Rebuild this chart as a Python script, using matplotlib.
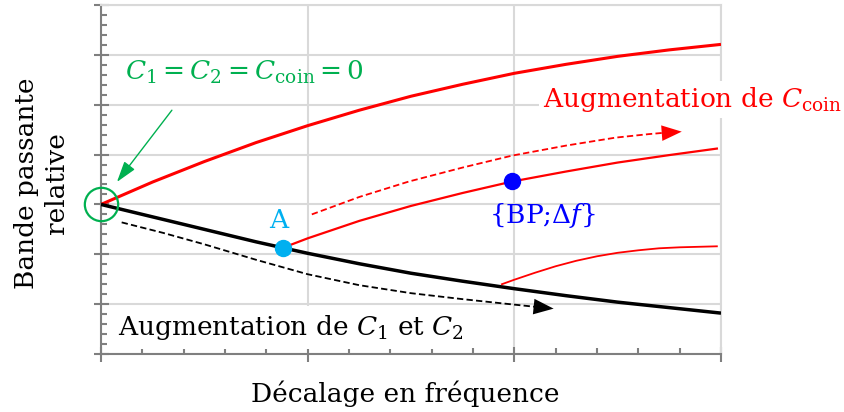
import matplotlib
matplotlib.use("Agg")
import matplotlib.pyplot as plt

plt.rcParams['font.family'] = ['DejaVu Serif']
plt.rcParams['mathtext.fontset'] = 'custom'
plt.rcParams['mathtext.rm'] = 'DejaVu Serif'
plt.rcParams['mathtext.it'] = 'DejaVu Serif:italic'

# ---- data ----
top_x = [0, 0.25, 0.5, 0.75, 1.0, 1.25, 1.5, 1.75, 2.0, 2.25, 2.5, 2.75, 3.0]
top_y = [3.0, 3.45, 3.86, 4.24, 4.58, 4.89, 5.17, 5.41, 5.63, 5.81, 5.97, 6.10, 6.21]

black_x = [0, 0.25, 0.5, 0.75, 0.88, 1.0, 1.25, 1.5, 1.75, 2.0, 2.25, 2.5, 2.75, 3.0]
black_y = [3.0, 2.75, 2.50, 2.25, 2.13, 2.02, 1.81, 1.62, 1.46, 1.31, 1.17, 1.04, 0.93, 0.82]

mid_x = [0.88, 1.0, 1.25, 1.5, 1.75, 1.99, 2.25, 2.5, 2.75, 2.98]
mid_y = [2.13, 2.32, 2.67, 2.97, 3.23, 3.46, 3.66, 3.84, 3.99, 4.12]

low_x = [1.94, 2.0, 2.1, 2.2, 2.3, 2.4, 2.5, 2.6, 2.7, 2.8, 2.98]
low_y = [1.40, 1.49, 1.63, 1.76, 1.87, 1.96, 2.03, 2.08, 2.12, 2.14, 2.16]

rdash_x = [1.02, 1.25, 1.49, 1.75, 1.99, 2.25, 2.49, 2.65, 2.81]
rdash_y = [2.80, 3.15, 3.46, 3.74, 3.98, 4.18, 4.34, 4.41, 4.46]

bdash_x = [0.10, 0.3, 0.5, 0.75, 1.0, 1.25, 1.5, 1.75, 2.0, 2.19]
bdash_y = [2.64, 2.43, 2.20, 1.89, 1.60, 1.38, 1.22, 1.10, 0.99, 0.91]

pointA = (0.88, 2.13)
pointBP = (1.99, 3.46)
origin = (0.0, 3.0)

GRID = '#d9d9d9'
SPINE = '#7f7f7f'
RED = '#ff0000'
GREEN = '#00b050'
CYAN = '#00b0f0'
BLUE = '#0000ff'

fig = plt.figure(figsize=(8.45, 4.12), dpi=100)
ax = fig.add_axes([101/845, 1 - 354/412, 620/845, 349/412])
ax.set_xlim(0, 3)
ax.set_ylim(0, 7)

ax.set_xticks([0, 1, 2, 3])
ax.set_yticks(range(0, 8))
ax.set_xticks([i * 0.2 for i in range(16)], minor=True)
ax.set_yticks([i * 0.2 for i in range(36)], minor=True)
ax.set_xticklabels([])
ax.set_yticklabels([])
ax.tick_params(which='major', direction='inout', length=10.8, width=1.5, color=SPINE)
ax.tick_params(which='minor', direction='in', length=4.3, width=1.5, color=SPINE)
ax.grid(True, which='major', color=GRID, lw=1.5, zorder=0)
ax.set_axisbelow(True)
for s in ['left', 'bottom']:
    ax.spines[s].set_color(SPINE)
    ax.spines[s].set_linewidth(1.5)
for s in ['top', 'right']:
    ax.spines[s].set_color(GRID)
    ax.spines[s].set_linewidth(1.5)

dash = (0, (3.5, 1.8))
ax.plot(top_x, top_y, color=RED, lw=2.2, zorder=3, solid_capstyle='butt')
ax.plot(black_x, black_y, color='black', lw=2.5, zorder=3, solid_capstyle='butt')
ax.plot(mid_x, mid_y, color=RED, lw=1.6, zorder=3)
ax.plot(low_x, low_y, color=RED, lw=1.3, zorder=3)
ax.plot(rdash_x[:-1] + [rdash_x[-1] - 0.05], rdash_y[:-1] + [rdash_y[-1] - 0.01],
        color=RED, lw=1.3, ls=dash, zorder=3)
ax.plot(bdash_x[:-1] + [bdash_x[-1] - 0.05], bdash_y[:-1] + [bdash_y[-1] + 0.02],
        color='black', lw=1.3, ls=dash, zorder=3)
ax.annotate('', xy=(rdash_x[-1], rdash_y[-1]), xytext=(rdash_x[-2], rdash_y[-2]),
            arrowprops=dict(arrowstyle='-|>,head_length=0.9,head_width=0.35', color=RED,
                            lw=0.01, shrinkA=0, shrinkB=0, mutation_scale=16), zorder=4)
ax.annotate('', xy=(bdash_x[-1], bdash_y[-1]), xytext=(bdash_x[-2], bdash_y[-2]),
            arrowprops=dict(arrowstyle='-|>,head_length=0.9,head_width=0.35', color='black',
                            lw=0.01, shrinkA=0, shrinkB=0, mutation_scale=16), zorder=4)

ax.plot([pointA[0]], [pointA[1]], 'o', color=CYAN, ms=11.5, zorder=5)
ax.plot([pointBP[0]], [pointBP[1]], 'o', color=BLUE, ms=11.5, zorder=5)
ax.plot([origin[0]], [origin[1]], 'o', mfc='none', mec=GREEN, ms=24, mew=1.6,
        zorder=6, clip_on=False)

# green arrow
ax.annotate('', xy=(0.077, 3.45), xytext=(0.343, 4.89),
            arrowprops=dict(arrowstyle='-|>,head_length=0.8,head_width=0.25', color=GREEN,
                            lw=1.0, shrinkA=0, shrinkB=0, mutation_scale=16), zorder=6)

FS = 19
ax.text(0.116, 5.50, r'$C_1 = C_2 = C_{\mathrm{coin}} = 0$', color=GREEN, fontsize=FS,
        ha='left', va='baseline', zorder=7)
ax.text(2.138, 4.95, r'Augmentation de $C_{\mathrm{coin}}$', color=RED, fontsize=FS,
        ha='left', va='baseline', zorder=7, clip_on=False,
        bbox=dict(fc='white', ec='none', pad=3))
ax.text(0.861, 2.53, 'A', color=CYAN, fontsize=FS, ha='center', va='baseline', zorder=7)
ax.text(2.138, 2.63, r'{BP;Δ$f$}', color=BLUE, fontsize=FS, ha='center', va='baseline', zorder=7)
ax.text(0.082, 0.38, r'Augmentation de $C_1$ et $C_2$', color='black', fontsize=FS,
        ha='left', va='baseline', zorder=7,
        bbox=dict(fc='white', ec='none', pad=5))

fig.text(405/845, (412 - 402)/412, 'Décalage en fréquence', fontsize=FS,
         ha='center', va='baseline')
fig.text(42/845, 1 - 183/412, 'Bande passante\nrelative', fontsize=FS, rotation=90,
         ha='center', va='center', multialignment='center', linespacing=1.25)

fig.savefig('out.png', dpi=100)
